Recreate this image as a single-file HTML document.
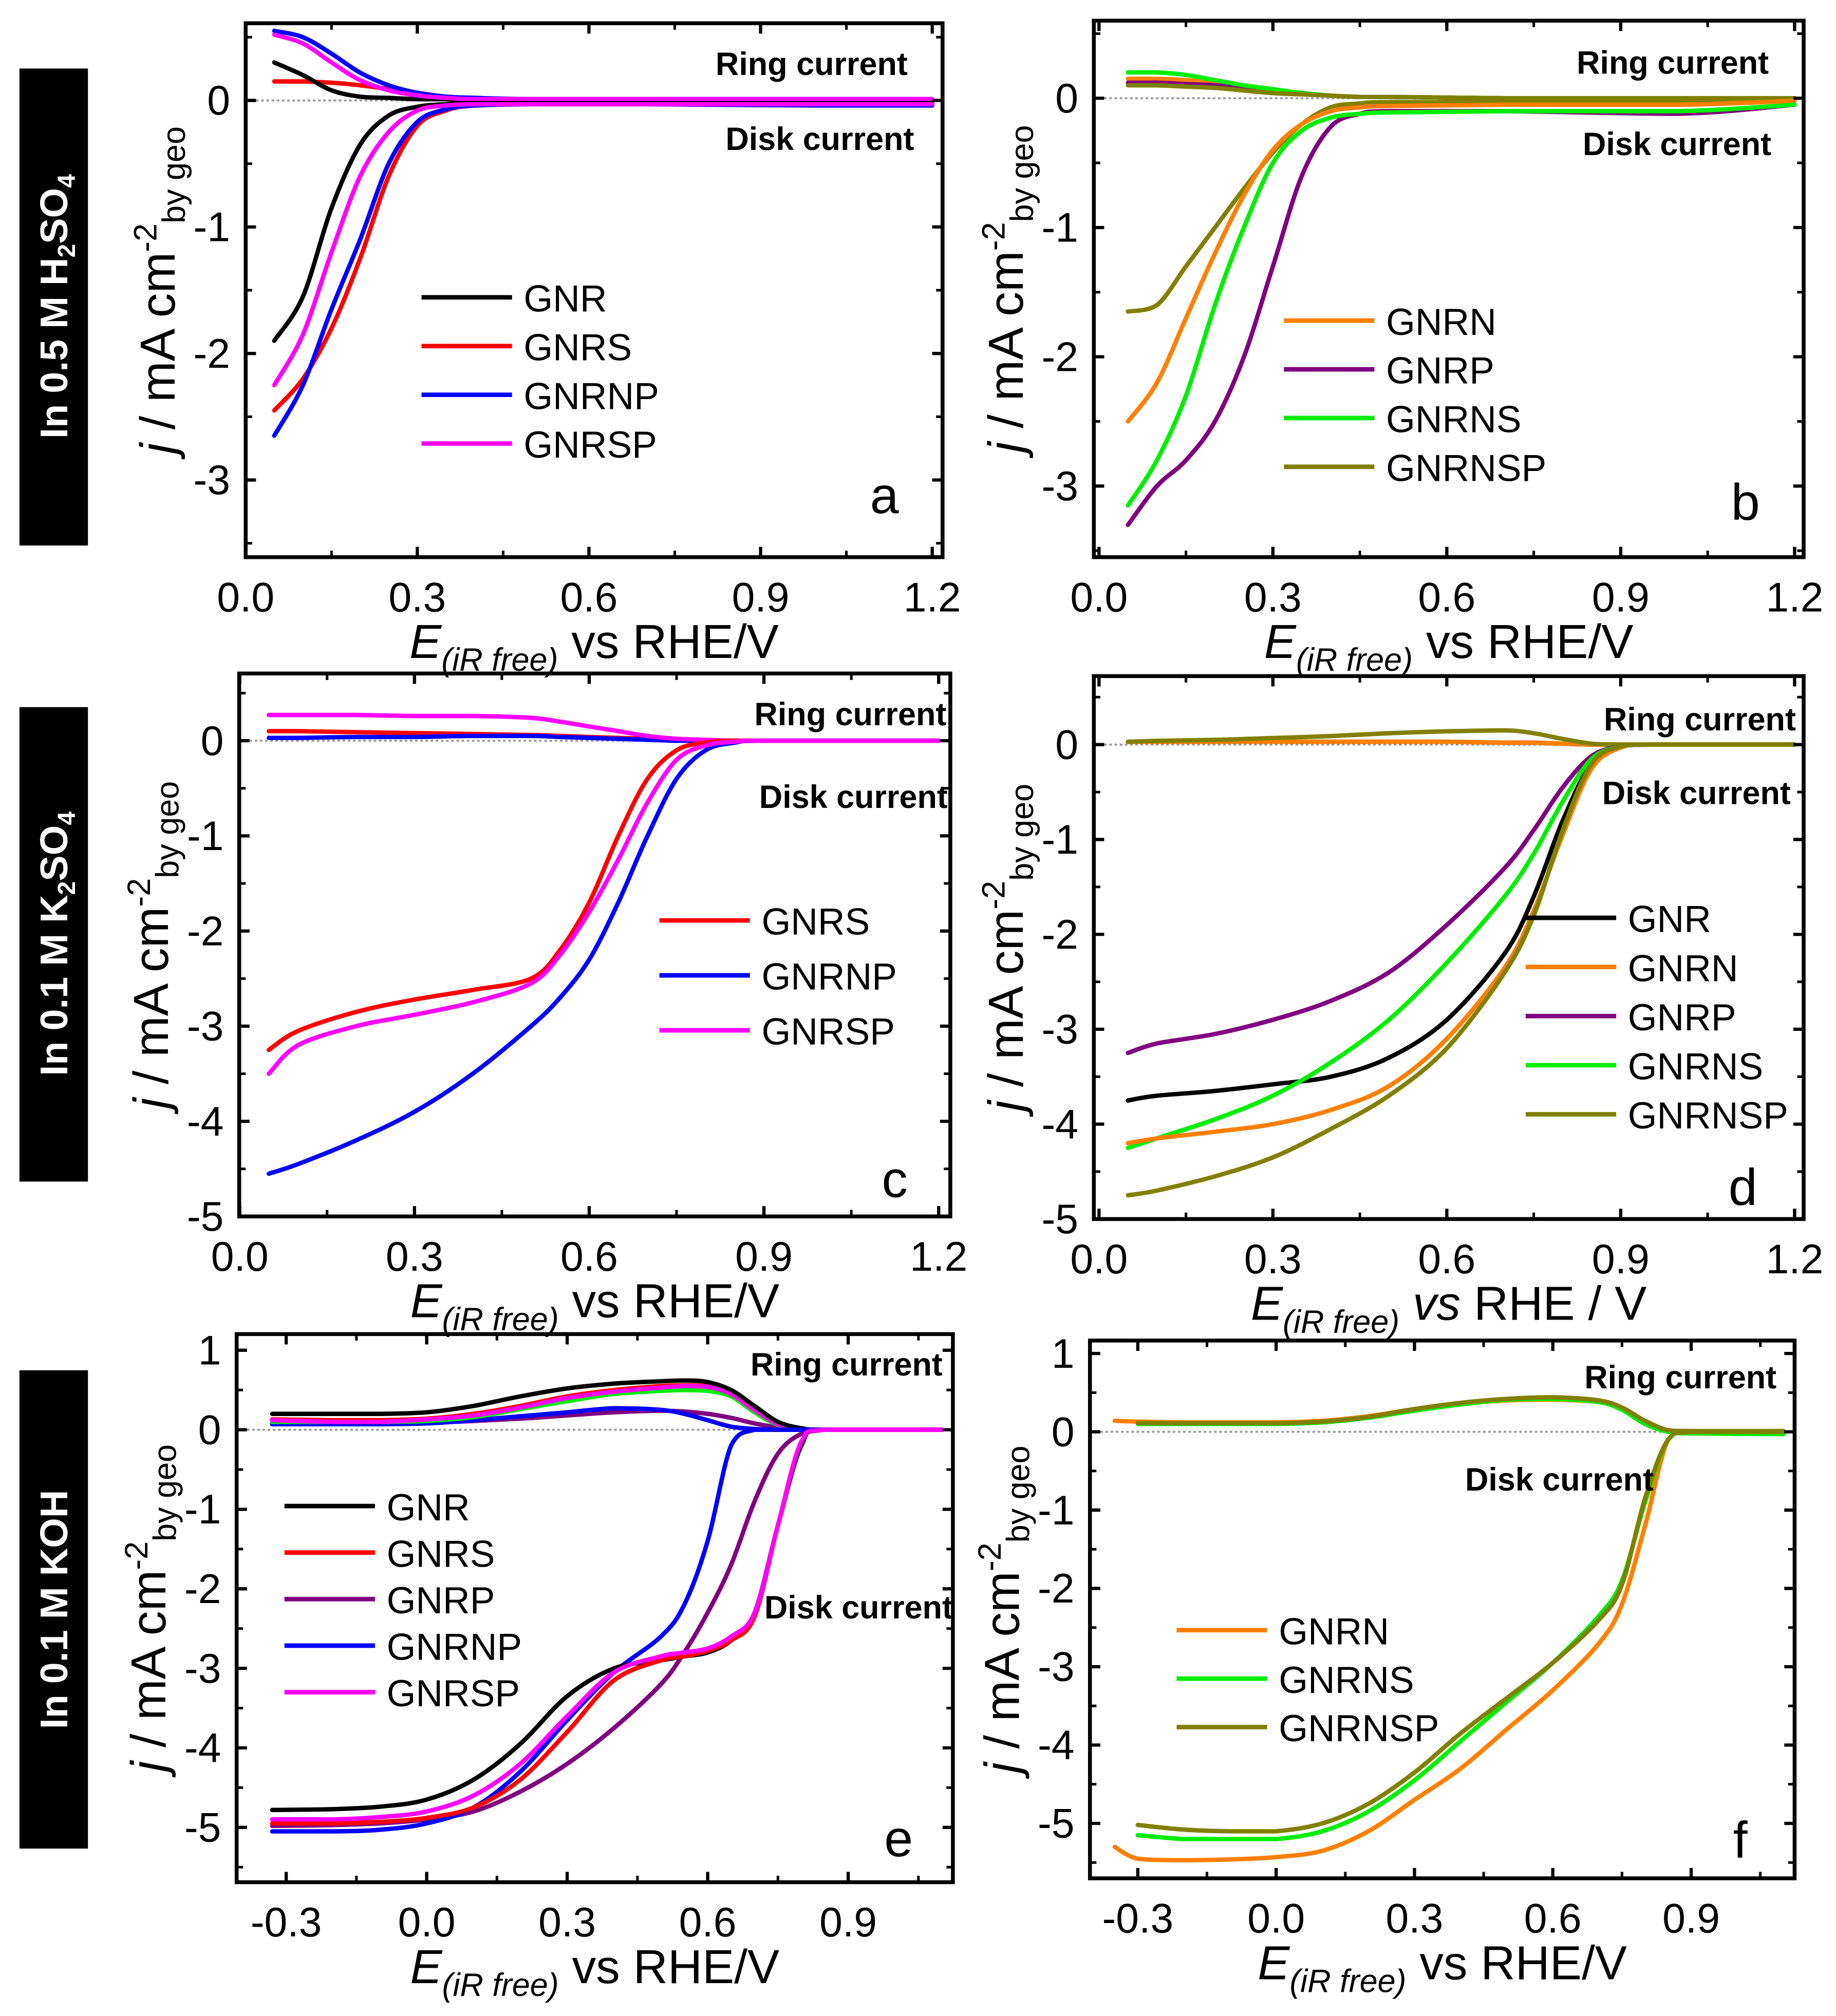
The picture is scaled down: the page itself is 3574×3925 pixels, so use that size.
<!DOCTYPE html>
<html><head><meta charset="utf-8"><style>
html,body{margin:0;padding:0;background:#fff}
svg{display:block}
text{font-family:"Liberation Sans",Arial,sans-serif}
</style></head><body>
<svg id="fig" xmlns="http://www.w3.org/2000/svg" width="3574" height="3925" viewBox="0 0 1420 1559.5">
<rect x="0" y="0" width="1420" height="1559.5" fill="#fff"/>
<g>
<rect x="15" y="53" width="53" height="369" fill="#000"/>
<text transform="translate(52,237) rotate(-90)" text-anchor="middle" font-size="30" font-weight="bold" fill="#fff">In 0.5 M H<tspan font-size="19" dy="6">2</tspan><tspan dy="-6">SO</tspan><tspan font-size="19" dy="6">4</tspan></text>
</g>
<g>
<rect x="15" y="547" width="53" height="367" fill="#000"/>
<text transform="translate(52,730) rotate(-90)" text-anchor="middle" font-size="30" font-weight="bold" fill="#fff">In 0.1 M K<tspan font-size="19" dy="6">2</tspan><tspan dy="-6">SO</tspan><tspan font-size="19" dy="6">4</tspan></text>
</g>
<g>
<rect x="15" y="1060" width="53" height="370" fill="#000"/>
<text transform="translate(52,1245) rotate(-90)" text-anchor="middle" font-size="30" font-weight="bold" fill="#fff">In 0.1 M KOH</text>
</g>
</svg>
<script>
const NS="http://www.w3.org/2000/svg";
const svg=document.getElementById('fig');
const C={GNR:'#000000',GNRS:'#ff0000',GNRNP:'#0000ff',GNRSP:'#ff00ff',GNRN:'#ff7f00',GNRP:'#800080',GNRNS:'#00ee00',GNRNSP:'#808000'};

// ---- Panel a data ----
const eA=[0.05,0.1,0.15,0.2,0.25,0.3,0.35,0.4,0.5,0.7,1.0,1.2];
const aDiskGNR=[-1.9,-1.55,-0.85,-0.35,-0.12,-0.05,-0.03,-0.02,-0.02,-0.02,-0.02,-0.02];
const aDiskGNRS=[-2.45,-2.2,-1.8,-1.25,-0.6,-0.2,-0.08,-0.04,-0.03,-0.03,-0.03,-0.03];
const aDiskGNRNP=[-2.65,-2.25,-1.65,-1.1,-0.5,-0.17,-0.07,-0.04,-0.03,-0.03,-0.04,-0.04];
const aDiskGNRSP=[-2.25,-1.85,-1.2,-0.6,-0.25,-0.08,-0.04,-0.03,-0.03,-0.03,-0.03,-0.03];
const aRingGNR=[0.3,0.2,0.08,0.03,0.02,0.01,0.01,0,0,0,0,0];
const aRingGNRS=[0.15,0.15,0.14,0.12,0.09,0.06,0.03,0.02,0.01,0.01,0.01,0.01];
const aRingGNRNP=[0.55,0.5,0.37,0.22,0.12,0.06,0.03,0.02,0.01,0.01,0.01,0.01];
const aRingGNRSP=[0.52,0.45,0.3,0.16,0.08,0.04,0.02,0.01,0.01,0.01,0.01,0.01];
// ---- Panel b data ----
const eB=[0.05,0.1,0.15,0.2,0.25,0.3,0.35,0.4,0.45,0.5,0.7,1.0,1.2];
const bDiskGNRN=[-2.5,-2.2,-1.7,-1.2,-0.75,-0.4,-0.2,-0.1,-0.07,-0.06,-0.05,-0.05,-0.02];
const bDiskGNRP=[-3.3,-3.0,-2.8,-2.5,-2.0,-1.3,-0.6,-0.22,-0.12,-0.1,-0.1,-0.12,-0.05];
const bDiskGNRNS=[-3.15,-2.8,-2.3,-1.6,-1.0,-0.5,-0.25,-0.15,-0.12,-0.11,-0.1,-0.1,-0.05];
const bDiskGNRNSP=[-1.65,-1.6,-1.3,-1.0,-0.7,-0.42,-0.2,-0.07,-0.04,-0.03,-0.03,-0.03,-0.02];
const bRingGNRN=[0.15,0.15,0.14,0.12,0.09,0.06,0.04,0.02,0.01,0.01,0,0,0];
const bRingGNRP=[0.12,0.12,0.11,0.1,0.08,0.06,0.04,0.02,0.01,0.01,0,0,0];
const bRingGNRNS=[0.2,0.2,0.18,0.14,0.1,0.07,0.04,0.02,0.01,0.01,0,0,0];
const bRingGNRNSP=[0.1,0.1,0.09,0.08,0.06,0.04,0.03,0.02,0.01,0.01,0,0,0];
// ---- Panel c data ----
const eC=[0.05,0.1,0.2,0.3,0.4,0.5,0.55,0.6,0.65,0.7,0.75,0.8,0.85,0.9,1.2];
const cDiskGNRS=[-3.25,-3.05,-2.85,-2.72,-2.62,-2.5,-2.2,-1.7,-1.0,-0.4,-0.1,-0.02,0,0,0];
const cDiskGNRNP=[-4.55,-4.45,-4.2,-3.9,-3.5,-3.0,-2.7,-2.3,-1.7,-1.0,-0.4,-0.1,-0.02,0,0];
const cDiskGNRSP=[-3.5,-3.2,-3.0,-2.88,-2.75,-2.55,-2.25,-1.8,-1.25,-0.65,-0.2,-0.05,-0.01,0,0];
const cRingGNRS=[0.1,0.1,0.09,0.08,0.07,0.06,0.05,0.04,0.03,0.02,0.01,0,0,0,0];
const cRingGNRNP=[0.03,0.03,0.04,0.04,0.05,0.05,0.04,0.03,0.02,0.01,0,0,0,0,0];
const cRingGNRSP=[0.27,0.27,0.27,0.26,0.26,0.24,0.2,0.15,0.1,0.05,0.02,0.01,0,0,0];
// ---- Panel d data ----
const eD=[0.05,0.1,0.2,0.3,0.4,0.5,0.6,0.7,0.75,0.8,0.85,0.9,0.95,1.2];
const dDiskGNR=[-3.75,-3.7,-3.65,-3.58,-3.5,-3.3,-2.9,-2.2,-1.6,-0.8,-0.2,-0.03,0,0];
const dDiskGNRN=[-4.2,-4.15,-4.08,-4.0,-3.85,-3.6,-3.1,-2.35,-1.75,-0.95,-0.25,-0.03,0,0];
const dDiskGNRP=[-3.25,-3.15,-3.05,-2.9,-2.7,-2.4,-1.9,-1.3,-0.9,-0.45,-0.12,-0.02,0,0];
const dDiskGNRNS=[-4.25,-4.15,-3.95,-3.7,-3.35,-2.9,-2.3,-1.6,-1.15,-0.6,-0.15,-0.02,0,0];
const dDiskGNRNSP=[-4.75,-4.7,-4.55,-4.35,-4.05,-3.7,-3.2,-2.4,-1.8,-0.9,-0.2,-0.02,0,0];
const dRingFlat=[0.03,0.03,0.03,0.03,0.03,0.03,0.03,0.02,0.02,0.01,0,0,0,0];
const dRingGNRNSP=[0.03,0.04,0.05,0.07,0.09,0.12,0.14,0.15,0.12,0.06,0.01,0,0,0];
// ---- Panel e data ----
const eE=[-0.33,-0.2,-0.1,0,0.1,0.2,0.3,0.4,0.5,0.55,0.6,0.65,0.7,0.75,0.8,0.85,1.1];
const eDiskGNR=[-4.78,-4.77,-4.74,-4.65,-4.4,-3.95,-3.35,-3.0,-2.9,-2.85,-2.8,-2.65,-2.3,-1.2,-0.2,0,0];
const eDiskGNRS=[-4.95,-4.95,-4.93,-4.88,-4.75,-4.4,-3.8,-3.15,-2.9,-2.85,-2.78,-2.65,-2.35,-1.2,-0.15,0,0];
const eDiskGNRP=[-4.98,-4.97,-4.95,-4.9,-4.8,-4.55,-4.2,-3.75,-3.2,-2.8,-2.3,-1.7,-0.9,-0.3,-0.05,0,0];
const eDiskGNRNP=[-5.05,-5.05,-5.03,-4.95,-4.75,-4.3,-3.65,-3.05,-2.6,-2.2,-1.4,-0.2,0,0,0,0,0];
const eDiskGNRSP=[-4.9,-4.9,-4.87,-4.8,-4.6,-4.2,-3.6,-3.05,-2.85,-2.8,-2.75,-2.6,-2.3,-1.2,-0.15,0,0];
const eRingGNR=[0.2,0.2,0.2,0.22,0.3,0.42,0.52,0.58,0.61,0.62,0.6,0.5,0.3,0.1,0.02,0,0];
const eRingGNRS=[0.13,0.12,0.12,0.14,0.2,0.3,0.42,0.5,0.55,0.56,0.55,0.45,0.25,0.08,0.02,0,0];
const eRingGNRNS=[0.1,0.1,0.1,0.11,0.16,0.26,0.36,0.45,0.49,0.5,0.49,0.42,0.22,0.06,0.01,0,0];
const eRingGNRP=[0.08,0.08,0.08,0.09,0.11,0.14,0.18,0.22,0.24,0.23,0.2,0.15,0.08,0.03,0,0,0];
const eRingGNRNP=[0.07,0.07,0.07,0.08,0.12,0.17,0.22,0.27,0.25,0.2,0.12,0.04,0.01,0,0,0,0];
const eRingGNRSP=[0.12,0.1,0.1,0.13,0.18,0.28,0.4,0.48,0.53,0.55,0.54,0.45,0.25,0.07,0.01,0,0];
// ---- Panel f data ----
const eF=[-0.35,-0.3,-0.2,-0.1,0,0.1,0.2,0.3,0.4,0.5,0.6,0.7,0.75,0.8,0.85,0.9,1.1];
const fDiskGNRN=[-5.3,-5.45,-5.47,-5.46,-5.43,-5.35,-5.1,-4.7,-4.3,-3.8,-3.3,-2.7,-2.2,-1.2,-0.1,0,0];
const fDiskGNRNS=[null,-5.15,-5.2,-5.2,-5.2,-5.1,-4.85,-4.45,-3.95,-3.45,-2.95,-2.35,-1.9,-0.9,-0.1,0,0];
const fDiskGNRNSP=[null,-5.02,-5.08,-5.1,-5.1,-5.0,-4.75,-4.35,-3.85,-3.4,-2.95,-2.4,-1.95,-0.85,-0.1,0,0];
const fRingGNRN=[0.14,0.13,0.12,0.12,0.12,0.14,0.2,0.29,0.36,0.4,0.41,0.38,0.3,0.14,0.02,0.01,0.01];
const fRingGNRNS=[null,0.1,0.1,0.1,0.1,0.12,0.18,0.27,0.35,0.41,0.42,0.38,0.28,0.1,0,-0.02,-0.03];
const fRingGNRNSP=[null,0.11,0.11,0.11,0.11,0.13,0.19,0.29,0.37,0.42,0.44,0.4,0.31,0.14,0.02,0.01,0.01];

function el(tag,attrs,parent){const e=document.createElementNS(NS,tag);for(const k in attrs)e.setAttribute(k,attrs[k]);(parent||svg).appendChild(e);return e;}

function smoothPath(pts){
  if(!pts.length)return '';
  let d='M'+pts[0][0].toFixed(1)+','+pts[0][1].toFixed(1);
  const cl=(v,a,b)=>Math.max(Math.min(a,b),Math.min(Math.max(a,b),v));
  for(let i=0;i<pts.length-1;i++){
    const p0=pts[Math.max(i-1,0)],p1=pts[i],p2=pts[i+1],p3=pts[Math.min(i+2,pts.length-1)];
    let c1x=p1[0]+(p2[0]-p0[0])/6,c1y=p1[1]+(p2[1]-p0[1])/6;
    let c2x=p2[0]-(p3[0]-p1[0])/6,c2y=p2[1]-(p3[1]-p1[1])/6;
    c1y=cl(c1y,p1[1],p2[1]);c2y=cl(c2y,p1[1],p2[1]);
    c1x=cl(c1x,p1[0],p2[0]);c2x=cl(c2x,p1[0],p2[0]);
    d+='C'+c1x.toFixed(1)+','+c1y.toFixed(1)+' '+c2x.toFixed(1)+','+c2y.toFixed(1)+' '+p2[0].toFixed(1)+','+p2[1].toFixed(1);
  }
  return d;
}

function panel(p){
  const g=el('g',{});
  
  
  const X=v=>p.x0p+(v-p.x0v)*(p.x1p-p.x0p)/(p.x1v-p.x0v);
  const Y=v=>p.y0p+(v-p.y0v)*(p.y1p-p.y0p)/(p.y1v-p.y0v);
  const b=p.box;
  const zl=el('line',{x1:b[0],x2:b[2],y1:Y(0),y2:Y(0),stroke:'#999','stroke-width':1.5,'stroke-dasharray':'2,2'},g);
  
  
  p.series.forEach(s=>{
    const pts=[];
    s.y.forEach((v,i)=>{if(v===null)return;pts.push([X(p.x[i]),Y(v)]);});
    const path=el('path',{d:smoothPath(pts),fill:'none',stroke:C[s.n],'stroke-width':3.4,'stroke-linejoin':'round','stroke-linecap':'round'},g);
    
    
  });
  const fr=el('rect',{x:b[0],y:b[1],width:b[2]-b[0],height:b[3]-b[1],fill:'none',stroke:'#000','stroke-width':3},g);
  
  
  p.xt.forEach((v,i)=>{
    const x=X(v);
    el('line',{x1:x,x2:x,y1:b[3],y2:b[3]-8,stroke:'#000','stroke-width':2.5},g);
    el('line',{x1:x,x2:x,y1:b[1],y2:b[1]+8,stroke:'#000','stroke-width':2.5},g);
    const xm=X(v+p.xstep/2);
    if(xm<b[2]-2){el('line',{x1:xm,x2:xm,y1:b[3],y2:b[3]-5,stroke:'#000','stroke-width':2},g);el('line',{x1:xm,x2:xm,y1:b[1],y2:b[1]+5,stroke:'#000','stroke-width':2},g);}
    const t=el('text',{x:x,y:b[3]+42,'text-anchor':'middle','font-size':32},g);
    t.textContent=p.xtl[i];
    
    
  });
  p.yt.forEach((v,i)=>{
    const y=Y(v);
    el('line',{x1:b[0],x2:b[0]+8,y1:y,y2:y,stroke:'#000','stroke-width':2.5},g);
    el('line',{x1:b[2],x2:b[2]-8,y1:y,y2:y,stroke:'#000','stroke-width':2.5},g);
    const ym=Y(v-0.5);
    if(ym<b[3]-2&&ym>b[1]){el('line',{x1:b[0],x2:b[0]+5,y1:ym,y2:ym,stroke:'#000','stroke-width':2},g);el('line',{x1:b[2],x2:b[2]-5,y1:ym,y2:ym,stroke:'#000','stroke-width':2},g);}
    const ya=Y(v+0.5);
    if(i===0&&ya>b[1]){el('line',{x1:b[0],x2:b[0]+5,y1:ya,y2:ya,stroke:'#000','stroke-width':2},g);el('line',{x1:b[2],x2:b[2]-5,y1:ya,y2:ya,stroke:'#000','stroke-width':2},g);}
    const t=el('text',{x:b[0]-12,y:y+11,'text-anchor':'end','font-size':32},g);
    t.textContent=p.ytl[i];
    
    
  });
  const xt=el('text',{x:(b[0]+b[2])/2,y:b[3]+78,'text-anchor':'middle','font-size':37},g);
  xt.innerHTML='<tspan font-style="italic">E</tspan><tspan font-style="italic" font-size="25" dy="10">(iR free)</tspan><tspan dy="-10"> '+p.xlab+'</tspan>';
  
  
  const yt=el('text',{transform:'translate('+(b[0]-55)+','+((b[1]+b[3])/2)+') rotate(-90)','text-anchor':'middle','font-size':38},g);
  yt.innerHTML='<tspan font-style="italic">j</tspan> / mA cm<tspan font-size="25" dy="-14">-2</tspan><tspan font-size="25" dy="22">by geo</tspan>';
  
  
  p.leg.names.forEach((n,i)=>{
    const y=p.leg.y+i*p.leg.dy;
    const lg=el('g',{},g);
    
    
    el('line',{x1:p.leg.x,x2:p.leg.x+70,y1:y,y2:y,stroke:C[n],'stroke-width':3.5},lg);
    const t=el('text',{x:p.leg.x+79,y:y+11,'font-size':29},lg);t.textContent=n;
  });
  const r=el('text',{x:p.ring[0],y:p.ring[1],'text-anchor':'end','font-size':25,'font-weight':'bold'},g);r.textContent='Ring current';
  
  
  const dk=el('text',{x:p.disk[0],y:p.disk[1],'text-anchor':'end','font-size':25,'font-weight':'bold'},g);dk.textContent='Disk current';
  
  
  const L=el('text',{x:p.letter[0],y:p.letter[1],'text-anchor':'middle','font-size':40},g);L.textContent=p.id;
  
  
}
const xt03=[0,0.3,0.6,0.9,1.2], xtl03=['0.0','0.3','0.6','0.9','1.2'];
const xtKOH=[-0.3,0,0.3,0.6,0.9], xtlKOH=['-0.3','0.0','0.3','0.6','0.9'];
function S(kind,n,y){return {kind:kind,n:n,y:y};}

panel({id:'a',box:[190,18,729,431],x0v:0,x0p:190,x1v:1.2,x1p:721,y0v:0,y0p:77.7,y1v:-3,y1p:371.3,
 x:eA,xt:xt03,xtl:xtl03,xstep:0.3,yt:[0,-1,-2,-3],ytl:['0','-1','-2','-3'],xlab:'vs RHE/V',
 series:[S('ring','GNRS',aRingGNRS),S('ring','GNR',aRingGNR),S('ring','GNRNP',aRingGNRNP),S('ring','GNRSP',aRingGNRSP),
  S('disk','GNR',aDiskGNR),S('disk','GNRS',aDiskGNRS),S('disk','GNRNP',aDiskGNRNP),S('disk','GNRSP',aDiskGNRSP)],
 leg:{x:326,y:230,dy:37.7,names:['GNR','GNRS','GNRNP','GNRSP']},ring:[702,58],disk:[707,116],letter:[684,397]});
panel({id:'b',box:[846,16,1395,431],x0v:0,x0p:850,x1v:1.2,x1p:1388,y0v:0,y0p:76,y1v:-3,y1p:376,
 x:eB,xt:xt03,xtl:xtl03,xstep:0.3,yt:[0,-1,-2,-3],ytl:['0','-1','-2','-3'],xlab:'vs RHE/V',
 series:[S('ring','GNRN',bRingGNRN),S('ring','GNRP',bRingGNRP),S('ring','GNRNS',bRingGNRNS),S('ring','GNRNSP',bRingGNRNSP),
  S('disk','GNRNSP',bDiskGNRNSP),S('disk','GNRN',bDiskGNRN),S('disk','GNRP',bDiskGNRP),S('disk','GNRNS',bDiskGNRNS)],
 leg:{x:993,y:248,dy:37.7,names:['GNRN','GNRP','GNRNS','GNRNSP']},ring:[1368,57],disk:[1370,120],letter:[1350,402]});
panel({id:'c',box:[185,521,735,941],x0v:0,x0p:185.4,x1v:1.2,x1p:726,y0v:0,y0p:573,y1v:-5,y1p:941,
 x:eC,xt:xt03,xtl:xtl03,xstep:0.3,yt:[0,-1,-2,-3,-4,-5],ytl:['0','-1','-2','-3','-4','-5'],xlab:'vs RHE/V',
 series:[S('ring','GNRS',cRingGNRS),S('ring','GNRNP',cRingGNRNP),S('ring','GNRSP',cRingGNRSP),
  S('disk','GNRNP',cDiskGNRNP),S('disk','GNRS',cDiskGNRS),S('disk','GNRSP',cDiskGNRSP)],
 leg:{x:510,y:712,dy:42.5,names:['GNRS','GNRNP','GNRSP']},ring:[732,561],disk:[733,625],letter:[692,926]});
panel({id:'d',box:[846,523,1395,943],x0v:0,x0p:850,x1v:1.2,x1p:1388,y0v:0,y0p:576,y1v:-5,y1p:943,
 x:eD,xt:xt03,xtl:xtl03,xstep:0.3,yt:[0,-1,-2,-3,-4,-5],ytl:['0','-1','-2','-3','-4','-5'],xlab:'<tspan font-style="italic">vs</tspan> RHE / V',
 series:[S('ring','GNR',dRingFlat),S('ring','GNRN',dRingFlat),S('ring','GNRNSP',dRingGNRNSP),
  S('disk','GNRP',dDiskGNRP),S('disk','GNR',dDiskGNR),S('disk','GNRNS',dDiskGNRNS),S('disk','GNRN',dDiskGNRN),S('disk','GNRNSP',dDiskGNRNSP)],
 leg:{x:1180,y:710,dy:38,names:['GNR','GNRN','GNRP','GNRNS','GNRNSP']},ring:[1389,565],disk:[1385,622],letter:[1348,932]});
panel({id:'e',box:[183,1032,737,1456],x0v:0,x0p:330,x1v:0.9,x1p:656,y0v:1,y0p:1044.5,y1v:-5,y1p:1413.6,
 x:eE,xt:xtKOH,xtl:xtlKOH,xstep:0.3,yt:[1,0,-1,-2,-3,-4,-5],ytl:['1','0','-1','-2','-3','-4','-5'],xlab:'vs RHE/V',
 series:[S('ring','GNRP',eRingGNRP),S('ring','GNRNP',eRingGNRNP),S('ring','GNRNS',eRingGNRNS),S('ring','GNRS',eRingGNRS),S('ring','GNRSP',eRingGNRSP),S('ring','GNR',eRingGNR),
  S('disk','GNRP',eDiskGNRP),S('disk','GNRNP',eDiskGNRNP),S('disk','GNR',eDiskGNR),S('disk','GNRS',eDiskGNRS),S('disk','GNRSP',eDiskGNRSP)],
 leg:{x:220,y:1165,dy:36,names:['GNR','GNRS','GNRP','GNRNP','GNRSP']},ring:[729,1064],disk:[737,1252],letter:[695,1436]});
panel({id:'f',box:[843,1037,1388,1453],x0v:-0.3,x0p:880,x1v:0.9,x1p:1308,y0v:1,y0p:1047,y1v:-5,y1p:1410.5,
 x:eF,xt:xtKOH,xtl:xtlKOH,xstep:0.3,yt:[1,0,-1,-2,-3,-4,-5],ytl:['1','0','-1','-2','-3','-4','-5'],xlab:'vs RHE/V',
 series:[S('ring','GNRN',fRingGNRN),S('ring','GNRNS',fRingGNRNS),S('ring','GNRNSP',fRingGNRNSP),
  S('disk','GNRN',fDiskGNRN),S('disk','GNRNS',fDiskGNRNS),S('disk','GNRNSP',fDiskGNRNSP)],
 leg:{x:910,y:1261,dy:37.5,names:['GNRN','GNRNS','GNRNSP']},ring:[1374,1074],disk:[1279,1153],letter:[1346,1437]});
</script>
</body></html>
